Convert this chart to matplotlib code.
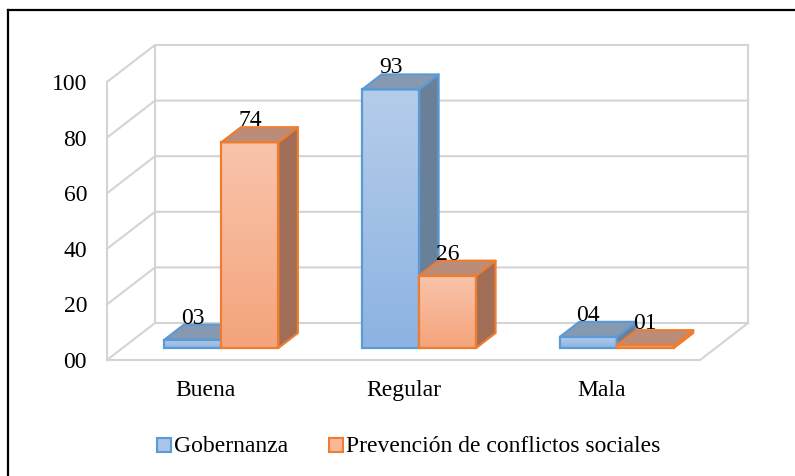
import numpy as np
import matplotlib.pyplot as plt
from matplotlib.patches import Polygon, Rectangle
from matplotlib.colors import LinearSegmentedColormap
from matplotlib.lines import Line2D

plt.rcParams['font.family'] = ['Liberation Serif', 'DejaVu Serif']

# datos
categorias = ['Buena', 'Regular', 'Mala']
gobernanza = [3, 93, 4]
prevencion = [74, 26, 1]
etiq_gob = ['03', '93', '04']
etiq_prev = ['74', '26', '01']
ticks = [0, 20, 40, 60, 80, 100]
tick_labels = ['00', '20', '40', '60', '80', '100']
series = ['Gobernanza', 'Prevención de conflictos sociales']

W, H = 795, 476
fig = plt.figure(figsize=(W / 100, H / 100), dpi=100)
ax = fig.add_axes([0, 0, 1, 1])

# escala: pixeles por categoria / por unidad
PXC = 197.7
PXV = 2.78
X0 = -0.5 - 107 / PXC
X1 = -0.5 + (W - 107) / PXC
V0 = -(H - 360) / PXV
V1 = 360 / PXV
# vector de profundidad (caja completa)
DX = 48 / PXC
DY = 37 / PXV
D0, D1 = 0.324, 0.73   # profundidad de las barras
BW = 0.288             # ancho de cada barra
TXT = 'black'


def proj(x, v, d):
    return (x + d * DX, v + d * DY)


# paredes y rejilla
gris = '#d4d4d4'
lw = 1.5
for t in ticks:
    a, b, c = proj(-0.5, t, 0), proj(-0.5, t, 1), proj(2.5, t, 1)
    ax.plot([a[0], b[0], c[0]], [a[1], b[1], c[1]], color=gris, lw=lw, zorder=1)
for (x, d) in [(-0.5, 0), (-0.5, 1), (2.5, 1)]:
    a, b = proj(x, 0, d), proj(x, 100, d)
    ax.plot([a[0], b[0]], [a[1], b[1]], color=gris, lw=lw, zorder=1)
a, b, c = proj(-0.5, 0, 0), proj(2.5, 0, 0), proj(2.5, 0, 1)
ax.plot([a[0], b[0], c[0]], [a[1], b[1], c[1]], color=gris, lw=lw, zorder=1)

estilos = [
    dict(top='#b5cdea', bot='#8db3e2', side='#6a8099', techo='#8699b0', edge='#5b9bd5'),
    dict(top='#f9c4ac', bot='#f4a47b', side='#a06d56', techo='#ba8d7b', edge='#ed7d31'),
]


def barra(xl, v, st, z):
    f0 = proj(xl, 0, D0)
    f1 = proj(xl + BW, v, D0)
    cmap = LinearSegmentedColormap.from_list('g', [st['bot'], st['top']])
    rect = Rectangle(f0, f1[0] - f0[0], f1[1] - f0[1], facecolor='none',
                     edgecolor=st['edge'], lw=1.6, zorder=z + 0.2)
    ax.add_patch(rect)
    im = ax.imshow(np.linspace(0, 1, 128).reshape(-1, 1), cmap=cmap, origin='lower',
                   extent=[f0[0], f1[0], f0[1], f1[1]], aspect='auto', zorder=z)
    im.set_clip_path(rect)
    lado = [proj(xl + BW, 0, D0), proj(xl + BW, 0, D1), proj(xl + BW, v, D1), proj(xl + BW, v, D0)]
    ax.add_patch(Polygon(lado, closed=True, facecolor=st['side'], edgecolor=st['edge'],
                         lw=1.6, joinstyle='round', zorder=z + 0.1))
    techo = [proj(xl, v, D0), proj(xl + BW, v, D0), proj(xl + BW, v, D1), proj(xl, v, D1)]
    ax.add_patch(Polygon(techo, closed=True, facecolor=st['techo'], edgecolor=st['edge'],
                         lw=1.6, joinstyle='round', zorder=z + 0.1))


for i in range(len(categorias)):
    for k, (vals, labs) in enumerate([(gobernanza, etiq_gob), (prevencion, etiq_prev)]):
        xl = i - BW + k * BW
        z = 3 + i * 2 + k
        barra(xl, vals[i], estilos[k], z)
        cx = proj(xl + BW / 2, 0, D0)[0]
        ax.text(cx, vals[i] + D1 * DY + 0.4, labs[i], fontsize=17, ha='center',
                va='baseline', color=TXT, zorder=20)
    ax.text(i, -12.95, categorias[i], fontsize=17, ha='center', va='baseline', color=TXT)

for t, lab in zip(ticks, tick_labels):
    ax.text(-0.5 - 20 / PXC, t, lab, fontsize=17, ha='right', va='center_baseline', color=TXT)

ax.set_xlim(X0, X1)
ax.set_ylim(V0, V1)
ax.axis('off')


# leyenda (en pixeles de la figura)
def fx(x, y):
    return (x / W, 1 - y / H)


leg = [(157, series[0], '#a9c4e8', '#5b9bd5'), (329, series[1], '#f8b896', '#ed7d31')]
for x, txt, fc, ec in leg:
    fig.patches.append(Rectangle(fx(x, 452), 14 / W, 14 / H, transform=fig.transFigure,
                                 facecolor=fc, edgecolor=ec, lw=1.5))
    fig.text(*fx(x + 17, 452), txt, fontsize=17, ha='left', va='baseline', color=TXT)

# marco
fig.lines.append(Line2D([7.5 / W, 7.5 / W], [1 - 10 / H, 0], transform=fig.transFigure,
                        color='black', lw=1.6))
fig.lines.append(Line2D([7.5 / W, 1], [1 - 10 / H, 1 - 10 / H], transform=fig.transFigure,
                        color='black', lw=1.6))

fig.savefig('out.png', dpi=100)
